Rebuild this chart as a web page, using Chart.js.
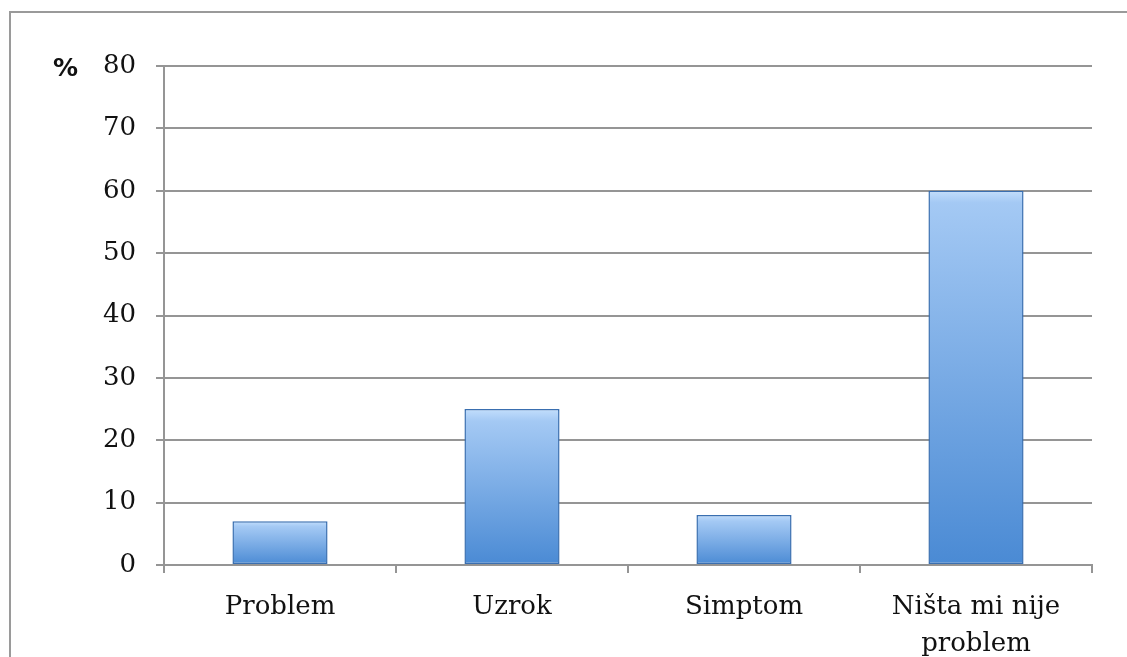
<!DOCTYPE html>
<html lang="hr">
<head>
    <meta charset="UTF-8">
    <title>Chart</title>
    <script src="https://cdn.jsdelivr.net/npm/chart.js"></script>
    <style>
        html, body { margin: 0; padding: 0; background: #fff; }
        #wrap { position: relative; width: 1127px; height: 657px; }
    </style>
</head>
<body>
    <div id="wrap"><canvas id="barChart" width="1127" height="657"></canvas></div>

    <script>
        // chart data
        const categories = ['Problem', 'Uzrok', 'Simptom', ['Ništa mi nije', 'problem']];
        const percentValues = [7, 25, 8, 60];
        const yTicks = [0, 10, 20, 30, 40, 50, 60, 70, 80];

        const gridGray = '#959595';
        const labelFont = { family: 'DejaVu Serif', size: 26, lineHeight: 1.42 };

        // outer frame (left + top only, the rest is cut off) and the "%" label
        const framePlugin = {
            id: 'frame',
            beforeDraw(chart) {
                const ctx = chart.ctx;
                ctx.save();
                ctx.strokeStyle = '#9a9a9a';
                ctx.lineWidth = 2;
                ctx.beginPath();
                ctx.moveTo(10, 657);
                ctx.lineTo(10, 12);
                ctx.lineTo(1127, 12);
                ctx.stroke();
                ctx.restore();
            },
            afterDraw(chart) {
                const ctx = chart.ctx;
                const y = chart.scales.y;
                ctx.save();
                ctx.fillStyle = '#111';
                ctx.font = 'bold 25px "DejaVu Sans"';
                ctx.textAlign = 'left';
                ctx.textBaseline = 'middle';
                ctx.fillText('%', 53, y.getPixelForValue(80) + 3);
                ctx.restore();
            }
        };

        function barGradient(context) {
            const chart = context.chart;
            if (!chart.chartArea) return '#6fa6e6';
            const y = chart.scales.y;
            const top = y.getPixelForValue(context.dataset.data[context.dataIndex]);
            const bottom = y.getPixelForValue(0);
            const g = chart.ctx.createLinearGradient(0, top, 0, bottom);
            g.addColorStop(0, '#c2defc');
            g.addColorStop(Math.min(0.12, 12 / (bottom - top)), '#a4c9f4');
            g.addColorStop(1, '#4a8ad4');
            return g;
        }

        const ctx = document.getElementById('barChart').getContext('2d');
        const barChart = new Chart(ctx, {
            type: 'bar',
            data: {
                labels: categories,
                datasets: [{
                    data: percentValues,
                    backgroundColor: barGradient,
                    borderColor: '#3a6fb0',
                    borderWidth: 1.5,
                    borderSkipped: false,
                    categoryPercentage: 1,
                    barPercentage: 0.41
                }]
            },
            options: {
                responsive: false,
                animation: false,
                layout: { padding: { top: 66, right: 35, left: 0, bottom: 0 } },
                plugins: {
                    legend: { display: false },
                    tooltip: { enabled: false }
                },
                scales: {
                    x: {
                        offset: true,
                        afterFit(scale) { scale.height = 92; },
                        grid: {
                            offset: true,
                            drawOnChartArea: false,
                            color: gridGray,
                            lineWidth: 2,
                            tickLength: 8
                        },
                        border: { display: true, color: gridGray, width: 2 },
                        ticks: {
                            color: '#111',
                            font: labelFont,
                            padding: 16,
                            maxRotation: 0
                        }
                    },
                    y: {
                        min: 0,
                        max: 80,
                        afterFit(scale) { scale.width = 164; },
                        afterBuildTicks(scale) { scale.ticks = yTicks.map(v => ({ value: v })); },
                        grid: {
                            color: gridGray,
                            lineWidth: 2,
                            tickLength: 8
                        },
                        border: { display: true, color: gridGray, width: 2 },
                        ticks: {
                            color: '#111',
                            font: { family: 'DejaVu Serif', size: 26 },
                            padding: 20
                        }
                    }
                }
            },
            plugins: [framePlugin]
        });
    </script>
</body>
</html>
